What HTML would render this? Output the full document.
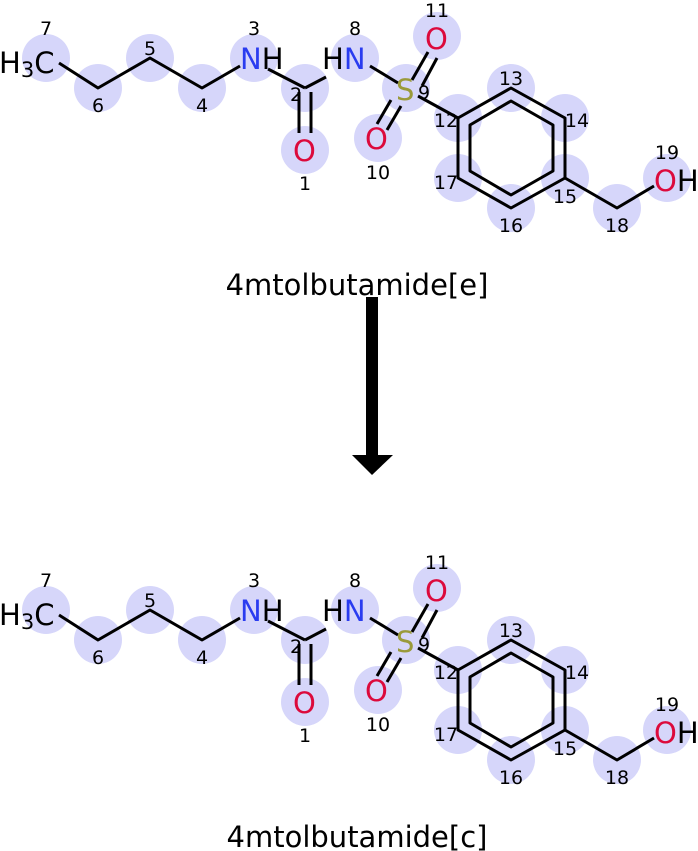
<!DOCTYPE html>
<html><head><meta charset="utf-8"><style>
html,body{margin:0;padding:0;background:#fff;}
svg{display:block;}
text{font-family:"DejaVu Sans","Liberation Sans",sans-serif;}
</style></head><body>
<svg width="698" height="851" viewBox="0 0 698 851" xmlns="http://www.w3.org/2000/svg">
<g id="m">
<g fill="#d6d6fa">
<circle cx="46" cy="58" r="24"/><circle cx="98" cy="88" r="24"/><circle cx="150" cy="58" r="24"/>
<circle cx="202" cy="88" r="24"/><circle cx="254" cy="58" r="24"/><circle cx="305" cy="88" r="24"/>
<circle cx="305" cy="150" r="24"/><circle cx="355" cy="58" r="24"/><circle cx="406" cy="88" r="24"/>
<circle cx="437" cy="36" r="24"/><circle cx="378" cy="138" r="24"/><circle cx="458" cy="118" r="24"/>
<circle cx="511" cy="88" r="24"/><circle cx="565" cy="118" r="24"/><circle cx="565" cy="178" r="24"/>
<circle cx="511" cy="208" r="24"/><circle cx="458" cy="178" r="24"/><circle cx="617" cy="208" r="24"/>
<circle cx="667" cy="178" r="24"/>
</g>
<g stroke="#000" stroke-width="3" fill="none" stroke-linejoin="round">
<polyline points="59,63 98,88 150,58 202,88 240,66"/>
<line x1="268" y1="69" x2="305" y2="88"/>
<line x1="305" y1="88" x2="326" y2="77"/>
<line x1="299" y1="92" x2="299" y2="133"/>
<line x1="311" y1="92" x2="311" y2="133"/>
<line x1="370" y1="66" x2="398" y2="83"/>
<line x1="412" y1="80" x2="428" y2="52"/>
<line x1="422" y1="86" x2="437" y2="58"/>
<line x1="391" y1="100" x2="377" y2="124"/>
<line x1="401" y1="106" x2="387" y2="130"/>
<line x1="418" y1="96" x2="458" y2="118"/>
<polygon points="458,118 511,88 565,118 565,178 511,208 458,178"/>
<polygon points="470,125 511,101 553,125 553,171 511,195 470,171"/>
<polyline points="565,178 617,208 654,186"/>
</g>
<g font-size="29">
<text x="-1" y="73" fill="#000">H<tspan font-size="21" dy="4">3</tspan><tspan dy="-4">C</tspan></text>
<text x="240" y="69" fill="#2a3cf0">N<tspan fill="#000">H</tspan></text>
<text x="322" y="69" fill="#000">H<tspan fill="#2a3cf0">N</tspan></text>
<text x="293" y="161" fill="#dc0a3c">O</text>
<text x="425" y="49" fill="#dc0a3c">O</text>
<text x="365" y="149" fill="#dc0a3c">O</text>
<text x="396" y="100" fill="#9a9a3a">S</text>
<text x="654" y="191" fill="#dc0a3c">O<tspan fill="#000">H</tspan></text>
</g>
<g font-size="19" fill="#000" text-anchor="middle">
<text x="46" y="35">7</text><text x="98" y="112">6</text><text x="150" y="55">5</text>
<text x="202" y="112">4</text><text x="254" y="35">3</text><text x="296" y="101">2</text>
<text x="305" y="190">1</text><text x="355" y="35">8</text><text x="424" y="99">9</text>
<text x="437" y="17">11</text><text x="378" y="179">10</text><text x="446" y="127">12</text>
<text x="511" y="85">13</text><text x="577" y="127">14</text><text x="565" y="203">15</text>
<text x="511" y="232">16</text><text x="446" y="189">17</text><text x="617" y="232">18</text>
<text x="667" y="159">19</text>
</g>
</g>
<text x="357" y="295" font-size="29" text-anchor="middle">4mtolbutamide[e]</text>
<use href="#m" transform="translate(0,552)"/>
<text x="357" y="847" font-size="29" text-anchor="middle">4mtolbutamide[c]</text>
<rect x="366" y="297" width="12" height="160" fill="#000"/>
<polygon points="352,455 393,455 372,475" fill="#000"/>
</svg>
</body></html>
